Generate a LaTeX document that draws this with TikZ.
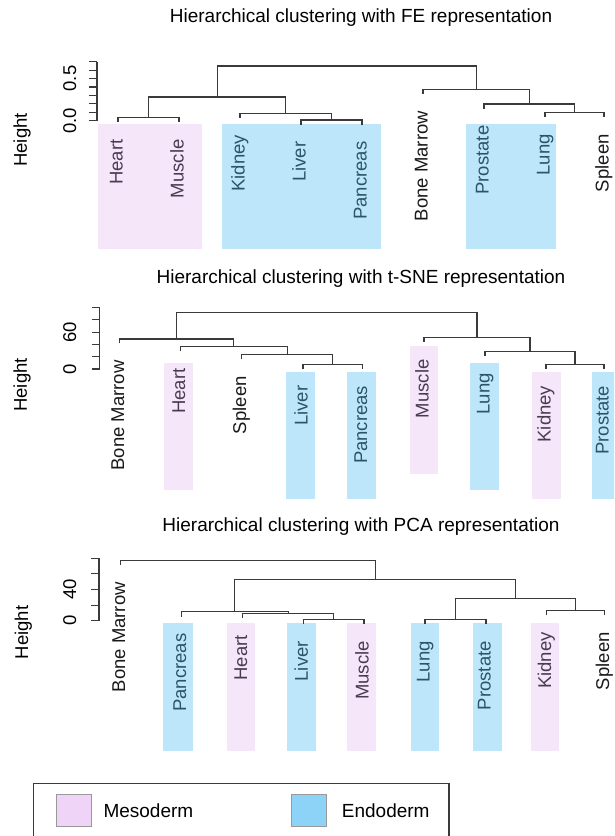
\documentclass[tikz,border=0pt]{standalone}
\usepackage{fontspec}
\setmainfont{Liberation Sans}
\usetikzlibrary{calc}

\definecolor{meso}{HTML}{F0D4F8}
\definecolor{endo}{HTML}{8DD3F8}
\definecolor{mesobg}{HTML}{F6E6FA}
\definecolor{endobg}{HTML}{BEE6FA}
\definecolor{mesotxt}{HTML}{4B3A52}
\definecolor{endotxt}{HTML}{2B5468}
\definecolor{lin}{HTML}{3A3A3A}

\tikzset{
  dend/.style={draw=lin, line width=1.1pt},
  leaflabel/.style={rotate=90, anchor=east, inner sep=0pt, text height=13pt, text depth=4pt, text=black!90, font=\fontsize{18.5}{20}\selectfont},
  inmeso/.style={text=mesotxt},
  inendo/.style={text=endotxt},
  ticklabel/.style={rotate=90, anchor=base, inner sep=0pt, font=\fontsize{18.5}{20}\selectfont},
  plottitle/.style={anchor=base, inner sep=0pt, font=\fontsize{19}{22}\selectfont},
  mesobox/.style={fill=mesobg},
  endobox/.style={fill=endobg},
  keybox/.style={draw=gray!80, line width=0.9pt},
}

% leaf: [style], name, x, end of stub, text
\newcommand{\clleaf}[5][]{
  \coordinate (#2) at (#3,#4);
  \node[leaflabel,#1] (#2-lbl) at ($(#2)+(0,17)$) {#5};
}
% merge: left, right, height, name
\newcommand{\clmerge}[4]{
  \draw[dend] (#1) -- (#1 |- 0,#3) -- (#2 |- 0,#3) -- (#2);
  \coordinate (#4) at ($(#1 |- 0,#3)!0.5!(#2 |- 0,#3)$);
}

\begin{document}
\begin{tikzpicture}[x=1pt, y=-1pt]
\useasboundingbox (0,0) rectangle (614,836);
\clip (0,0) rectangle (614,836);
\fill[white] (0,0) rectangle (614,836);

\begin{scope}

\fill[mesobox] (98,124) rectangle (201.7,249);
\fill[endobox] (221.7,124) rectangle (381,249);
\fill[endobox] (466,124) rectangle (556,249);

\node[plottitle] (fe-title) at (361,22.6) {Hierarchical clustering with FE representation};
\node[ticklabel] (fe-height) at (27,140) {Height};
\draw[dend] (97,61.7) -- (97,120.7);
\foreach \k in {0,...,7} \draw[dend] (89,120.7-8.43*\k) -- (97,120.7-8.43*\k);
\node[ticklabel] (fe-t0) at (76,120.7) {0.0};
\node[ticklabel] (fe-t5) at (76,78.55) {0.5};

\clleaf[inmeso]{fe-heart}{118}{122.2}{Heart}
\clleaf[inmeso]{fe-muscle}{179}{122.2}{Muscle}
\clleaf[inendo]{fe-kidney}{240}{117.8}{Kidney}
\clleaf[inendo]{fe-liver}{301}{124.5}{Liver}
\clleaf[inendo]{fe-pancreas}{362}{124.5}{Pancreas}
\clleaf{fe-marrow}{423}{93.8}{Bone Marrow}
\clleaf[inendo]{fe-prostate}{484}{108.5}{Prostate}
\clleaf[inendo]{fe-lung}{545}{117.2}{Lung}
\clleaf{fe-spleen}{604}{117.2}{Spleen}

\clmerge{fe-heart}{fe-muscle}{117.7}{fe-hm}
\clmerge{fe-liver}{fe-pancreas}{120}{fe-lp}
\clmerge{fe-kidney}{fe-lp}{113.3}{fe-klp}
\clmerge{fe-hm}{fe-klp}{97}{fe-left}
\clmerge{fe-lung}{fe-spleen}{112.7}{fe-ls}
\clmerge{fe-prostate}{fe-ls}{104}{fe-pls}
\clmerge{fe-marrow}{fe-pls}{89.3}{fe-right}
\clmerge{fe-left}{fe-right}{66}{fe-root}
\end{scope}

\begin{scope}

\fill[mesobox] (164,362.5) rectangle (192.5,490);
\fill[endobox] (286,371.5) rectangle (315,498.5);
\fill[endobox] (347,371.5) rectangle (376,498.5);
\fill[mesobox] (409.5,346) rectangle (438,473.5);
\fill[endobox] (470,362.5) rectangle (498.5,490);
\fill[mesobox] (532,371.5) rectangle (561,498.5);
\fill[endobox] (592,371.5) rectangle (621,498.5);

\node[plottitle] (ts-title) at (361,283) {Hierarchical clustering with t-SNE representation};
\node[ticklabel] (ts-height) at (27,385) {Height};
\draw[dend] (99.5,307.5) -- (99.5,369);
\foreach \k in {0,...,5} \draw[dend] (91.5,369-12.3*\k) -- (99.5,369-12.3*\k);
\node[ticklabel] (ts-t0) at (76,369) {0};
\node[ticklabel] (ts-t60) at (76,332.1) {60};

\clleaf{ts-marrow}{119.5}{343.3}{Bone Marrow}
\clleaf[inmeso]{ts-heart}{180.5}{351.2}{Heart}
\clleaf{ts-spleen}{241.5}{359.2}{Spleen}
\clleaf[inendo]{ts-liver}{303}{368.6}{Liver}
\clleaf[inendo]{ts-pancreas}{362.7}{368.6}{Pancreas}
\clleaf[inmeso]{ts-muscle}{424}{342.2}{Muscle}
\clleaf[inendo]{ts-lung}{485}{356.2}{Lung}
\clleaf[inmeso]{ts-kidney}{546}{368.6}{Kidney}
\clleaf[inendo]{ts-prostate}{604}{368.6}{Prostate}

\clmerge{ts-liver}{ts-pancreas}{364.3}{ts-lp}
\clmerge{ts-spleen}{ts-lp}{354.7}{ts-slp}
\clmerge{ts-heart}{ts-slp}{346.7}{ts-hslp}
\clmerge{ts-marrow}{ts-hslp}{339}{ts-left}
\clmerge{ts-kidney}{ts-prostate}{364.3}{ts-kp}
\clmerge{ts-lung}{ts-kp}{351.7}{ts-lkp}
\clmerge{ts-muscle}{ts-lkp}{337.7}{ts-right}
\clmerge{ts-left}{ts-right}{312.5}{ts-root}
\end{scope}

\begin{scope}

\fill[endobox] (163.3,622.7) rectangle (192.7,751);
\fill[mesobox] (226.7,622.7) rectangle (255.3,751);
\fill[endobox] (287.3,622.7) rectangle (315.7,751);
\fill[mesobox] (346.7,622.7) rectangle (376,751);
\fill[endobox] (410.7,622.7) rectangle (439.3,751);
\fill[endobox] (473.3,622.7) rectangle (502,751);
\fill[mesobox] (531,622.7) rectangle (559.3,751);

\node[plottitle] (pca-title) at (361,531) {Hierarchical clustering with PCA representation};
\node[ticklabel] (pca-height) at (28,632.5) {Height};
\draw[dend] (99,558.3) -- (99,620.7);
\foreach \k in {0,...,4} \draw[dend] (91,620.7-15.6*\k) -- (99,620.7-15.6*\k);
\node[ticklabel] (pca-t0) at (76,620.7) {0};
\node[ticklabel] (pca-t40) at (76,589.5) {40};

\clleaf{pca-marrow}{120.7}{565}{Bone Marrow}
\clleaf[inendo]{pca-pancreas}{181.7}{616.5}{Pancreas}
\clleaf[inmeso]{pca-heart}{242.7}{618}{Heart}
\clleaf[inendo]{pca-liver}{303.3}{624}{Liver}
\clleaf[inmeso]{pca-muscle}{364}{624}{Muscle}
\clleaf[inendo]{pca-lung}{425}{624}{Lung}
\clleaf[inendo]{pca-prostate}{486}{624}{Prostate}
\clleaf[inmeso]{pca-kidney}{546.7}{615.2}{Kidney}
\clleaf{pca-spleen}{604.5}{615.2}{Spleen}

\clmerge{pca-liver}{pca-muscle}{619.3}{pca-lm}
\clmerge{pca-heart}{pca-lm}{613.3}{pca-hlm}
\clmerge{pca-pancreas}{pca-hlm}{611.7}{pca-left}
\clmerge{pca-lung}{pca-prostate}{619.3}{pca-lp}
\clmerge{pca-kidney}{pca-spleen}{610.7}{pca-ks}
\clmerge{pca-lp}{pca-ks}{598.3}{pca-right}
\clmerge{pca-left}{pca-right}{579.3}{pca-rest}
\clmerge{pca-marrow}{pca-rest}{560.7}{pca-root}
\end{scope}

% legend
\draw[dend] (33.3,836) -- (33.3,783.3) -- (449,783.3) -- (449,836);
\filldraw[keybox, fill=meso] (56.7,794) rectangle (91.7,826);
\filldraw[keybox, fill=endo] (291.7,794) rectangle (326,826);
\node[anchor=base west, inner sep=0pt, font=\fontsize{19}{22}\selectfont] (key-meso) at (103.3,817.5) {Mesoderm};
\node[anchor=base west, inner sep=0pt, font=\fontsize{19}{22}\selectfont] (key-endo) at (341.7,817.5) {Endoderm};

\end{tikzpicture}
\end{document}
